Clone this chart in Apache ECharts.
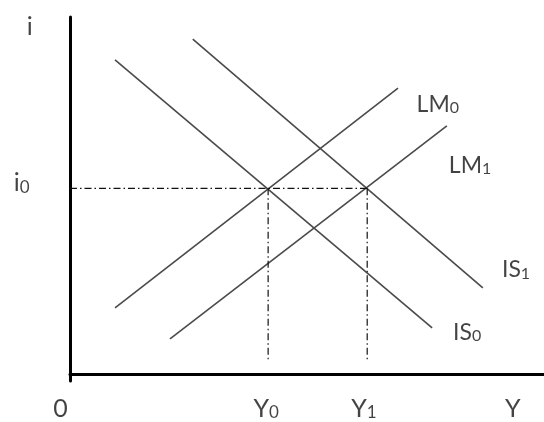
<!DOCTYPE html>
<html><head><meta charset="utf-8">
<script src="https://cdn.jsdelivr.net/npm/echarts@6/dist/echarts.min.js"></script>
<style>html,body{margin:0;padding:0;background:#fff}#c{width:544px;height:422px}</style>
</head><body><div id="c"></div>
<script>
// IS-LM curves (endpoints in chart units)
const is0 = [[9.5, 88.0], [76.4, 12.9]];
const is1 = [[25.9, 93.8], [87.1, 24.1]];
const lm0 = [[9.5, 18.5], [69.2, 80.1]];
const lm1 = [[21.1, 9.8], [79.5, 69.5]];
// equilibrium values
const i0 = 52;
const Y0 = 41.8;
const Y1 = 62.7;
const guideBottom = 3.6;
// curve names: [main, subscript, x, y]
const curveLabels = [
  ['LM', '0', 77.6, 75.4],
  ['LM', '1', 84.4, 58.3],
  ['IS', '1', 94.1, 29.1],
  ['IS', '0', 83.8, 11.5]
];
// axis texts: [main, subscript, x, y]
const axisTexts = [
  ['i', '', -8.5, 97.3],
  ['i', '0', -10.2, 53.4],
  ['0', '', -2.0, -9.7],
  ['Y', '0', Y0 - 0.4, -9.7],
  ['Y', '1', Y1 - 0.7, -9.7],
  ['Y', '', 93.4, -9.7]
];

const chart = echarts.init(document.getElementById('c'), null, {renderer: 'canvas'});
const FONT = 'Lato';
const curveStyle = {color: '#4a4a4a', width: 1.6};
const guideStyle = {color: '#111', width: 1.2, type: [7, 3, 1.5, 3]};

function lineSeries(data, style) {
  return {type: 'line', data: data, symbol: 'none', lineStyle: style, silent: true, animation: false, z: 3};
}
function textSeries(list, big, small) {
  return {
    type: 'scatter', clip: false, symbolSize: 0, silent: true, animation: false,
    data: list.map(l => ({value: [l[2], l[3]], main: l[0], sub: l[1]})),
    label: {
      show: true, position: 'inside', align: 'center', verticalAlign: 'middle',
      formatter: p => '{m|' + p.data.main + '}' + (p.data.sub ? '{s|' + p.data.sub + '}' : ''),
      rich: {
        m: {fontFamily: FONT, fontSize: big, color: '#141414', verticalAlign: 'bottom'},
        s: {fontFamily: FONT, fontSize: small, color: '#141414', verticalAlign: 'bottom'}
      }
    }
  };
}

const series = [
  lineSeries(is0, curveStyle),
  lineSeries(is1, curveStyle),
  lineSeries(lm0, curveStyle),
  lineSeries(lm1, curveStyle),
  lineSeries([[0, i0], [Y1, i0]], guideStyle),
  lineSeries([[Y0, i0], [Y0, guideBottom]], guideStyle),
  lineSeries([[Y1, i0], [Y1, guideBottom]], guideStyle),
  textSeries(curveLabels, 23, 16),
  textSeries(axisTexts, 25, 17)
];

chart.setOption({
  animation: false,
  grid: {left: 70, right: 0, top: 17, bottom: 41, containLabel: false},
  xAxis: {
    type: 'value', min: 0, max: 100,
    axisLine: {show: true, onZero: true, lineStyle: {color: '#000', width: 3}},
    axisTick: {show: false}, axisLabel: {show: false}, splitLine: {show: false}
  },
  yAxis: {
    type: 'value', min: -2, max: 100,
    axisLine: {show: true, onZero: true, lineStyle: {color: '#000', width: 3}},
    axisTick: {show: false}, axisLabel: {show: false}, splitLine: {show: false}
  },
  series: series
});
</script></body></html>
